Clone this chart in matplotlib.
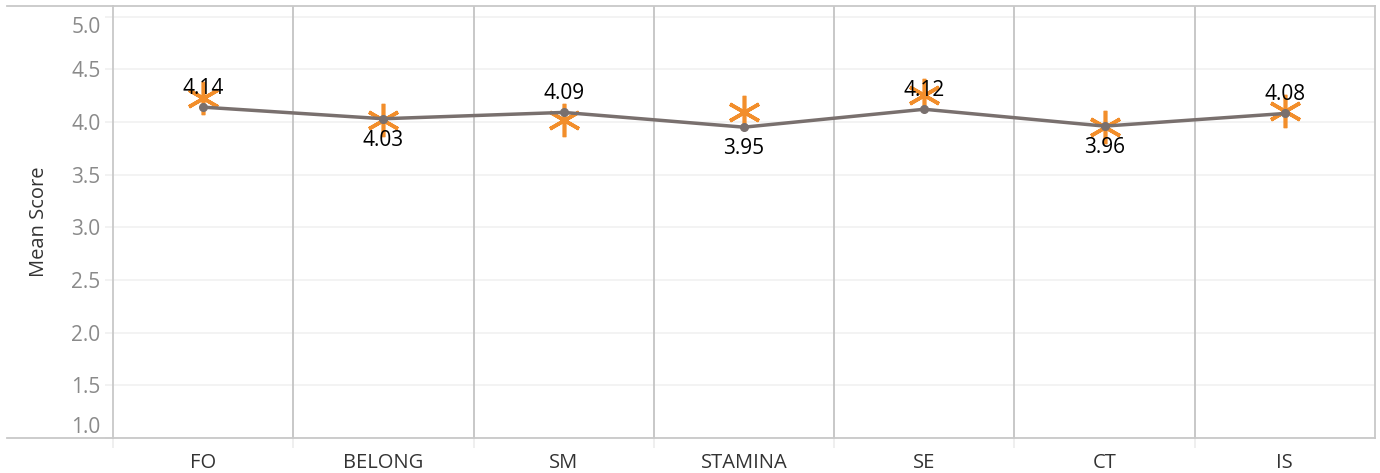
"""
Mean score per dimension - line chart with orange reference markers
"""
import numpy as np
import matplotlib
matplotlib.use("Agg")
import matplotlib.pyplot as plt
from matplotlib.lines import Line2D

categories = ["FO", "BELONG", "SM", "STAMINA", "SE", "CT", "IS"]
mean_scores = [4.14, 4.03, 4.09, 3.95, 4.12, 3.96, 4.08]
reference_scores = [4.23, 4.02, 4.02, 4.09, 4.26, 3.95, 4.10]
y_ticks = [1.0, 1.5, 2.0, 2.5, 3.0, 3.5, 4.0, 4.5, 5.0]

plt.rcParams['font.family'] = ['Open Sans', 'DejaVu Sans']

W, H = 1380, 473
fig = plt.figure(figsize=(W / 100, H / 100), dpi=100)
ax = fig.add_axes([113 / W, (H - 438) / H, (1375 - 113) / W, (438 - 6) / H])

x = np.arange(len(categories))

# orange asterisks underneath the line
ax.plot(x, reference_scores, linestyle="none", marker=(6, 2, 0), markersize=24,
        markeredgewidth=2.6, color="#F28E2B", zorder=2)

# grey mean line with dots
ax.plot(x, mean_scores, color="#79706E", linewidth=2.5, marker="o", markersize=5.5, zorder=3)

# value labels alternate above / below
for i, v in enumerate(mean_scores):
    off = 13.5 if i % 2 == 0 else -15.5
    ax.annotate(f"{v:.2f}", (x[i], v), textcoords="offset points", xytext=(0, off),
                ha="center", va="center", fontsize=15, color="black", zorder=4)

ax.set_xlim(-0.5, len(categories) - 0.5)
ax.set_ylim(1.0, 5.1)

ax.set_yticks(y_ticks)
ax.set_yticklabels([f"{t:.1f}" for t in y_ticks])
ax.set_xticks(x)
ax.set_xticklabels(categories)
ax.set_xticks(np.arange(-0.5, len(categories) - 0.5, 1.0), minor=True)

ax.tick_params(axis="y", length=6, width=1.2, color="#f0f0f0", pad=3,
               labelsize=15, labelcolor="#8a8a8a")
ax.tick_params(axis="x", which="major", length=0, pad=11, labelsize=14.5, labelcolor="#333333")
ax.tick_params(axis="x", which="minor", length=7, width=1.2, color="#ececec")

labels = ax.get_yticklabels()
labels[0].set_va("bottom")
labels[-1].set_va("top")

ax.set_ylabel("Mean Score", fontsize=14.5, color="#333333", labelpad=16)

# light horizontal gridlines
ax.yaxis.grid(True, color="#f2f2f2", linewidth=1.3)
ax.set_axisbelow(True)

# vertical pane dividers
for d in np.arange(0.5, len(categories) - 0.5, 1.0):
    ax.axvline(d, color="#c4c4c4", linewidth=1.3, zorder=1)

for side in ["left", "right", "top", "bottom"]:
    ax.spines[side].set_color("#c8c8c8")
    ax.spines[side].set_linewidth(1.3)

# header/footer rules running to the left edge
fig.add_artist(Line2D([7 / W, 113 / W], [(H - 6) / H] * 2, color="#c8c8c8", linewidth=1.3))
fig.add_artist(Line2D([7 / W, 113 / W], [(H - 438) / H] * 2, color="#c8c8c8", linewidth=1.3))

plt.savefig("out.png", dpi=100)
plt.close()
